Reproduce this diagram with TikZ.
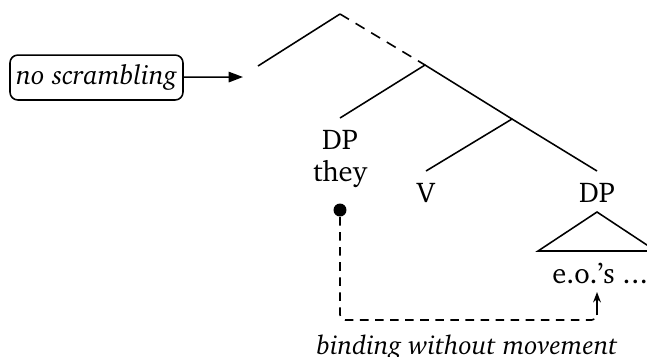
\documentclass[tikz,border=0pt]{standalone}
\usepackage[T1]{fontenc}
\usepackage{charter}
\usetikzlibrary{arrows.meta}
\begin{document}
\begin{tikzpicture}[x=0.385pt,y=-0.385pt,
  edge/.style={line width=0.6pt},
  lbl/.style={inner sep=0pt,anchor=base,font=\fontsize{11}{12}\selectfont},
  note/.style={draw,rounded corners=3pt,line width=0.6pt,inner sep=0pt,minimum width=66.6pt,minimum height=17.3pt,font=\fontsize{10.4}{12}\selectfont\itshape},
  bind/.style={dash pattern=on 3.3pt off 2.5pt,line width=0.6pt,rounded corners=2pt}]
\useasboundingbox (0,0) rectangle (647,356);
% tree skeleton
\coordinate (A) at (340,14);
\coordinate (L) at (258,66);
\coordinate (B) at (425,65);
\coordinate (Dt) at (340,118);
\coordinate (C) at (512,119);
\coordinate (Vt) at (426,171);
\coordinate (Rt) at (597,171);
\draw[edge] (L) -- (A);
\draw[edge,dash pattern=on 4pt off 3pt] (A) -- (B);
\draw[edge] (Dt) -- (B) -- (C);
\draw[edge] (Vt) -- (C) -- (Rt);
% labels
\node[lbl] (dp1) at (340,149) {DP};
\node[lbl] (they) at (340,181) {they};
\node[lbl] (v) at (426,202) {V};
\node[lbl] (dp2) at (597,202) {DP};
\coordinate (T1) at (597,212);
\coordinate (T2) at (538,251);
\coordinate (T3) at (656,251);
\draw[edge] (T1) -- (T2) -- (T3) -- cycle;
\node[lbl] (eos) at (600,283) {e.o.'s .\kern0.02em.\kern0.02em.};
% binding
\node[circle,fill,inner sep=0pt,minimum size=5pt] (dot) at (340,210) {};
\coordinate (c1) at (340,320);
\coordinate (c2) at (597,320);
\coordinate (tip) at (597,292);
\draw[bind] (dot) -- (c1) -- (c2) -- ([yshift=-8pt]tip);
\draw[line width=0.6pt,-{Stealth[length=4pt,width=3pt]}] ([yshift=-9pt]tip) -- (tip);
\node[lbl,font=\fontsize{10.2}{12}\selectfont\itshape] (bl) at (467,354) {binding without movement};
% no scrambling
\node[note] (ns) at (96.5,77.5) {no scrambling};
\coordinate (ar) at (243,77);
\draw[line width=0.6pt,-{Stealth[length=5.5pt,width=4pt,inset=0pt]}] (ns) -- (ar);
\end{tikzpicture}
\end{document}
